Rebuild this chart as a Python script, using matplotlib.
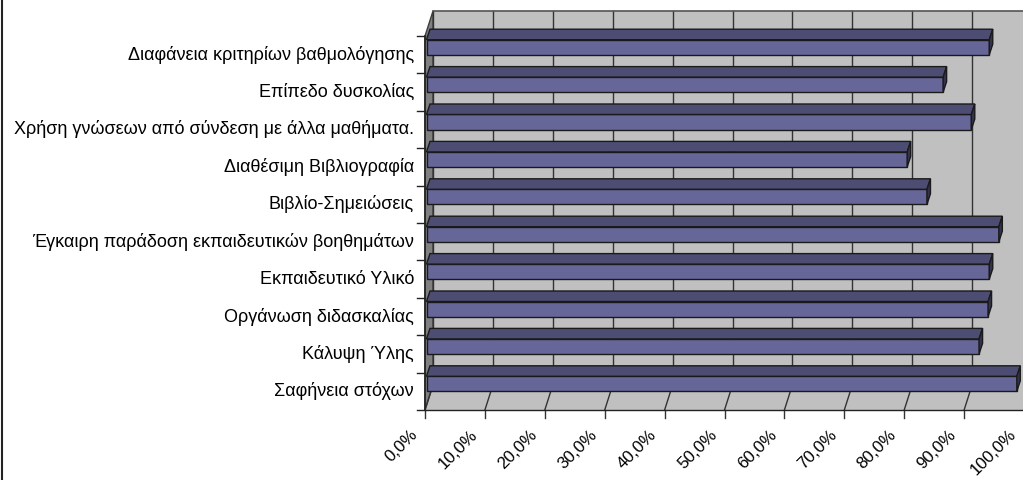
import matplotlib
matplotlib.use('Agg')
import matplotlib.pyplot as plt
from matplotlib.lines import Line2D

categories = [
    'Σαφήνεια στόχων',
    'Κάλυψη Ύλης',
    'Οργάνωση διδασκαλίας',
    'Εκπαιδευτικό Υλικό',
    'Έγκαιρη παράδοση εκπαιδευτικών βοηθημάτων',
    'Βιβλίο-Σημειώσεις',
    'Διαθέσιμη Βιβλιογραφία',
    'Χρήση γνώσεων από σύνδεση με άλλα μαθήματα.',
    'Επίπεδο δυσκολίας',
    'Διαφάνεια κριτηρίων βαθμολόγησης',
]
values = [98.8, 92.5, 94.0, 94.2, 95.8, 83.8, 80.5, 91.2, 86.5, 94.2]
x_ticks = [0, 10, 20, 30, 40, 50, 60, 70, 80, 90, 100]

W, H = 1023, 480
plt.rcParams['font.family'] = ['Liberation Sans', 'DejaVu Sans']

fig = plt.figure(figsize=(W / 100, H / 100), dpi=100)
# plot box of the front plane, in pixels
left, right, top, bottom = 425, 1024, 36, 410
ax = fig.add_axes([left / W, 1 - bottom / H, (right - left) / W, (bottom - top) / H])
ax.set_xlim(0, 100)
ax.set_ylim(0, len(categories))
ax.axis('off')

px = 100 / (right - left)
py = len(categories) / (bottom - top)
# depth of the 3d box and of the bars
box_dx, box_dy = 8 * px, 25 * py
bar_dx, bar_dy = 3.5 * px, 10.5 * py
n = len(categories)

ax.fill([0, 100, 100 + box_dx, box_dx], [0, 0, box_dy, box_dy], color='#C0C0C0', clip_on=False, zorder=1)
ax.fill([box_dx, 100 + box_dx, 100 + box_dx, box_dx], [box_dy, box_dy, n + box_dy, n + box_dy],
        color='#C0C0C0', clip_on=False, zorder=1)
ax.fill([0, box_dx, box_dx, 0], [0, box_dy, n + box_dy, n], facecolor='#808080', edgecolor='#404040',
        linewidth=1, clip_on=False, zorder=1)

# gridlines on the wall and floor
for t in x_ticks:
    ax.plot([t + box_dx, t + box_dx], [box_dy, n + box_dy], color='#333333', lw=1, clip_on=False, zorder=2)
    ax.plot([t, t + box_dx], [0, box_dy], color='#333333', lw=1, clip_on=False, zorder=2)
    ax.plot([t, t], [0, -8 * py], color='#333333', lw=1, clip_on=False, zorder=2)
    ax.text(t - 2.6, -17 * py, f'{t:.1f}%'.replace('.', ','), rotation=45, ha='right', va='top',
            rotation_mode='anchor', fontsize=12.2, clip_on=False)
ax.plot([box_dx, 100 + box_dx], [n + box_dy, n + box_dy], color='#555555', lw=1.2, clip_on=False, zorder=2)

# axis lines and category ticks
ax.plot([0, 100], [0, 0], color='#222222', lw=1, clip_on=False, zorder=3)
ax.plot([0, 0], [0, n], color='#222222', lw=1.2, clip_on=False, zorder=5)
for i in range(n + 1):
    ax.plot([-8 * px, 0], [i, i], color='#222222', lw=1, clip_on=False, zorder=3)

# bars: front face from barh, top and side faces from the same values
bar_h = 15 * py
y_pos = [i + 0.5 + 7.5 * py for i in range(n)]
start = 1.5 * px
ax.barh(y_pos, [v - start for v in values], height=bar_h, left=start, color='#666699',
        edgecolor='#1a1a1a', linewidth=1, zorder=4, clip_on=False)
for y, v in zip(y_pos, values):
    y_top = y + bar_h / 2
    y_low = y - bar_h / 2
    ax.fill([start, v, v + bar_dx, start + bar_dx], [y_top, y_top, y_top + bar_dy, y_top + bar_dy],
            facecolor='#4D4D73', edgecolor='#1a1a1a', linewidth=1, zorder=4, clip_on=False)
    ax.fill([v, v + bar_dx, v + bar_dx, v], [y_low, y_low + bar_dy, y_top + bar_dy, y_top],
            facecolor='#33334D', edgecolor='#1a1a1a', linewidth=1, zorder=4, clip_on=False)

for i, label in enumerate(categories):
    ax.text(-11 * px, i + 0.5, label, ha='right', va='center', fontsize=13, clip_on=False)

# the frame only shows on the left side
fig.add_artist(Line2D([1.5 / W, 1.5 / W], [0, 1], color='#222222', linewidth=1.5))

fig.savefig('out.png', dpi=100)
